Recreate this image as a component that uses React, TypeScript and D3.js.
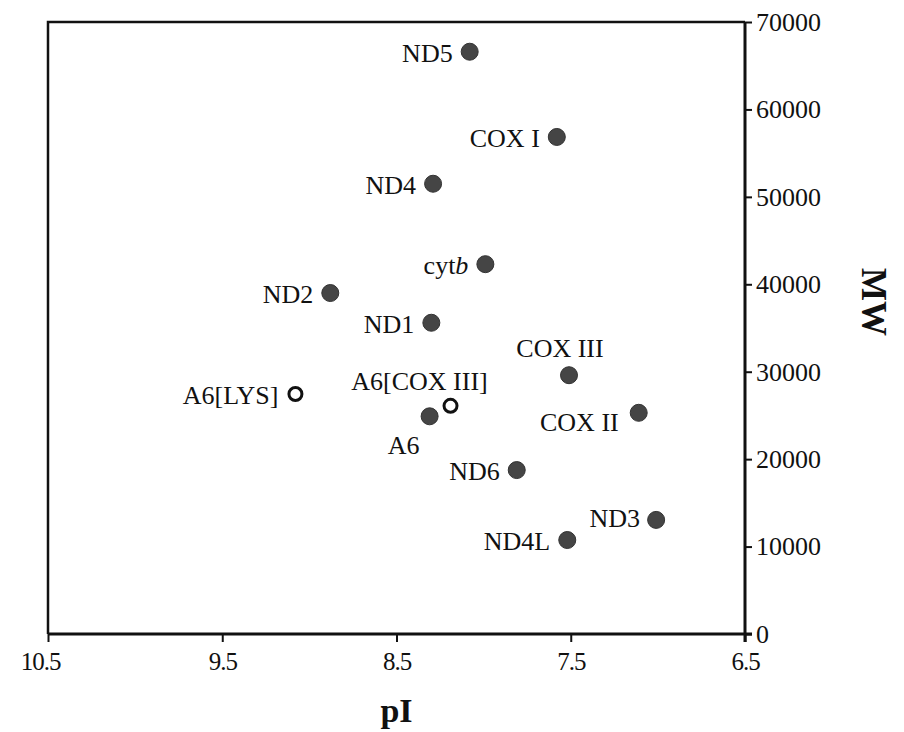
import * as d3 from 'd3';
import React, { ReactElement, useEffect, useRef } from 'react';

const W = 904;
const H = 732;
const M = { left: 48, right: 745, top: 22, bottom: 634 };

// proteins: pI vs molecular weight
const names = ['ND5', 'COX I', 'ND4', 'cytb', 'ND2', 'ND1', 'COX III', 'A6[LYS]', 'A6[COX III]', 'A6', 'COX II', 'ND6', 'ND3', 'ND4L'];
const pI = [8.08, 7.58, 8.29, 7.99, 8.88, 8.3, 7.51, 9.08, 8.19, 8.31, 7.11, 7.81, 7.01, 7.52];
const mw = [66600, 56850, 51500, 42300, 39000, 35600, 29600, 27450, 26100, 24900, 25300, 18750, 13050, 10750];
const isOpen = [false, false, false, false, false, false, false, true, true, false, false, false, false, false];
const labelSide = ['left', 'left', 'left', 'left', 'left', 'left', 'above', 'left', 'aboveLeft', 'below', 'leftLow', 'left', 'leftHigh', 'left'];

const xTicks = [10.5, 9.5, 8.5, 7.5, 6.5];
const yTicks = [0, 10000, 20000, 30000, 40000, 50000, 60000, 70000];

const FONT = '"Liberation Serif", "Times New Roman", serif';

const App = (): ReactElement => {
  const ref = useRef<SVGSVGElement>(null);

  useEffect(() => {
    const svg = d3.select(ref.current);
    svg.selectAll('*').remove();

    const x = d3.scaleLinear().domain([10.5, 6.5]).range([M.left, M.right]);
    const y = d3.scaleLinear().domain([0, 70000]).range([M.bottom, M.top]);

    // frame: top and left borders
    svg
      .append('path')
      .attr('d', `M${M.left},${M.bottom} V${M.top} H${M.right}`)
      .attr('fill', 'none')
      .attr('stroke', '#111')
      .attr('stroke-width', 2.5);

    const xAxis = svg
      .append('g')
      .attr('transform', `translate(0,${M.bottom})`)
      .call(d3.axisBottom(x).tickValues(xTicks).tickSize(8).tickSizeOuter(0).tickFormat(d3.format('.1f')));
    xAxis.select('.domain').attr('stroke-width', 3).attr('stroke', '#111').attr('d', `M${M.left},0H${M.right + 7}`);
    xAxis.selectAll('.tick line').attr('stroke-width', 2).attr('stroke', '#111');
    xAxis
      .selectAll('.tick text')
      .attr('font-family', FONT)
      .attr('font-size', 25)
      .attr('fill', '#111')
      .attr('y', 36)
      .attr('dy', 0)
      .attr('dx', (d) => (d === 10.5 ? -8 : 0))
      .style('letter-spacing', '-1px');

    const yAxis = svg
      .append('g')
      .attr('transform', `translate(${M.right},0)`)
      .call(d3.axisRight(y).tickValues(yTicks).tickSize(7).tickSizeOuter(0).tickFormat(d3.format('d')));
    yAxis.select('.domain').attr('stroke-width', 3).attr('stroke', '#111').attr('d', `M0,${M.top}V${M.bottom + 8}`);
    yAxis.selectAll('.tick line').attr('stroke-width', 2).attr('stroke', '#111');
    yAxis
      .selectAll('.tick text')
      .attr('font-family', FONT)
      .attr('font-size', 26)
      .attr('fill', '#111')
      .attr('x', 11);

    svg
      .append('text')
      .attr('x', (M.left + M.right) / 2)
      .attr('y', 722)
      .attr('text-anchor', 'middle')
      .attr('font-family', FONT)
      .attr('font-weight', 'bold')
      .attr('font-size', 34)
      .attr('fill', '#111')
      .text('pI');

    svg
      .append('text')
      .attr('transform', `translate(862,302) rotate(90)`)
      .attr('text-anchor', 'middle')
      .attr('font-family', FONT)
      .attr('font-weight', 'bold')
      .attr('font-size', 35)
      .attr('fill', '#111')
      .text('MW');

    const data = names.map((n, i) => ({ name: n, pI: pI[i], mw: mw[i], open: isOpen[i], side: labelSide[i] }));

    const pts = svg.append('g');
    pts
      .selectAll('circle')
      .data(data)
      .enter()
      .append('circle')
      .attr('cx', (d) => x(d.pI))
      .attr('cy', (d) => y(d.mw))
      .attr('r', (d) => (d.open ? 6.5 : 8.5))
      .attr('fill', (d) => (d.open ? '#fff' : '#454545'))
      .attr('stroke', (d) => (d.open ? '#111' : '#333'))
      .attr('stroke-width', (d) => (d.open ? 3 : 1));

    const offset = (side: string) => {
      switch (side) {
        case 'above':
          return { dx: -9, dy: -27, anchor: 'middle' };
        case 'aboveLeft':
          return { dx: -31, dy: -25, anchor: 'middle' };
        case 'below':
          return { dx: -26, dy: 29, anchor: 'middle' };
        case 'leftLow':
          return { dx: -20, dy: 9, anchor: 'end' };
        case 'leftHigh':
          return { dx: -16, dy: -2, anchor: 'end' };
        default:
          return { dx: -17, dy: 1, anchor: 'end' };
      }
    };

    const labels = svg
      .append('g')
      .selectAll('text')
      .data(data)
      .enter()
      .append('text')
      .attr('x', (d) => x(d.pI) + offset(d.side).dx)
      .attr('y', (d) => y(d.mw) + offset(d.side).dy)
      .attr('dy', '0.35em')
      .attr('text-anchor', (d) => offset(d.side).anchor)
      .attr('font-family', FONT)
      .attr('font-size', 26)
      .attr('fill', '#111');

    labels.each(function (d) {
      const t = d3.select(this);
      if (d.name === 'cytb') {
        t.append('tspan').text('cyt');
        t.append('tspan').attr('font-style', 'italic').text('b');
      } else {
        t.text(d.name);
      }
    });
  }, []);

  return (
    <svg
      ref={ref}
      width={W}
      height={H}
      style={{ position: 'absolute', left: 0, top: 0, background: '#fff' }}
    />
  );
};

export default App;
